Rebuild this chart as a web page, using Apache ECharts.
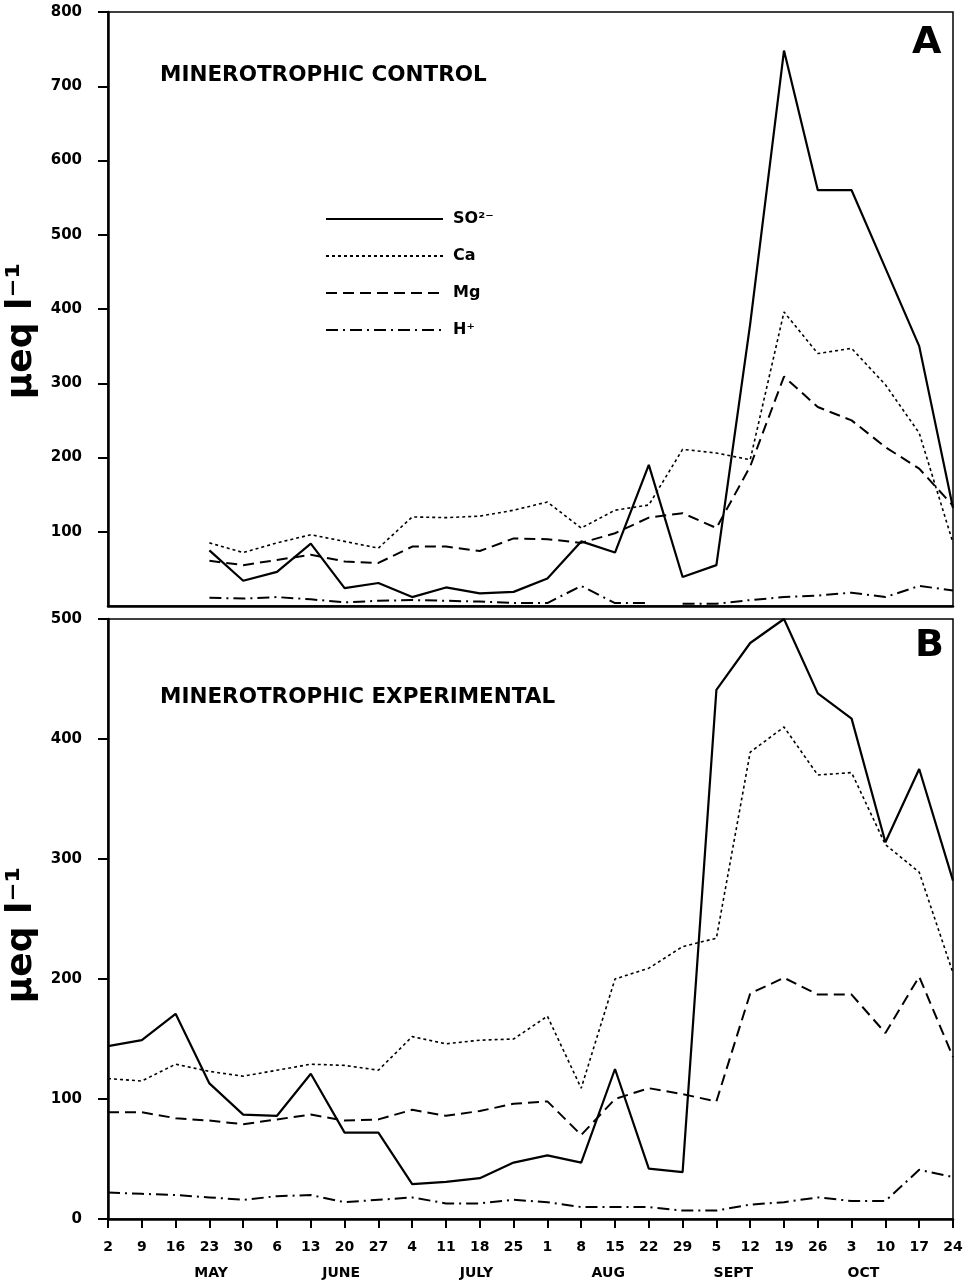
<!DOCTYPE html>
<html>
<head>
<meta charset="utf-8">
<script src="https://cdn.jsdelivr.net/npm/echarts@6/dist/echarts.min.js"></script>
<style>
  html, body { margin: 0; padding: 0; background: #fff; }
  #chart { width: 977px; height: 1281px; }
</style>
</head>
<body>
<div id="chart"></div>
<script>
// sampling dates, weekly from 2 May to 24 Oct
const days = ['2', '9', '16', '23', '30', '6', '13', '20', '27', '4', '11', '18', '25',
  '1', '8', '15', '22', '29', '5', '12', '19', '26', '3', '10', '17', '24']
const months = ['MAY', 'JUNE', 'JULY', 'AUG', 'SEPT', 'OCT']
// where each month name sits, in date-index units
const monthAt = [3.05, 6.9, 10.9, 14.8, 18.5, 22.35]

// A - minerotrophic control (ueq/l)
const so4A = [null, null, null, 75, 34, 46, 84, 24, 31, 12, 25, 17, 19, 37, 87, 72, 190, 39, 55, 380, 748, 560, 560, 455, 350, 132]
const caA = [null, null, null, 85, 72, 85, 96, 87, 78, 120, 119, 121, 129, 140, 105, 129, 136, 211, 206, 197, 396, 340, 347, 298, 233, 85]
const mgA = [null, null, null, 61, 55, 62, 69, 60, 58, 80, 80, 74, 91, 90, 85, 98, 119, 125, 105, 188, 309, 268, 250, 214, 185, 135]
const hA = [null, null, null, 11, 10, 12, 9, 5, 7, 8, 7, 6, 4, 4, 27, 4, 4, 3, 3, 8, 12, 14, 18, 12, 27, 21]
const hAGapAfter = 16 // the H+ line is broken between Aug 22 and Aug 29

// B - minerotrophic experimental (ueq/l)
const so4B = [144, 149, 171, 113, 87, 86, 121, 72, 72, 29, 31, 34, 47, 53, 47, 125, 42, 39, 441, 480, 500, 438, 417, 314, 375, 282]
const caB = [117, 115, 129, 123, 119, 124, 129, 128, 124, 152, 146, 149, 150, 169, 109, 200, 209, 227, 234, 389, 410, 370, 372, 312, 289, 205]
const mgB = [89, 89, 84, 82, 79, 83, 87, 82, 83, 91, 86, 90, 96, 98, 70, 100, 109, 104, 98, 188, 201, 187, 187, 155, 202, 135]
const hB = [22, 21, 20, 18, 16, 19, 20, 14, 16, 18, 13, 13, 16, 14, 10, 10, 10, 7, 7, 12, 14, 18, 15, 15, 41, 35]

const legendNames = { SO4: 'SO²⁻', Ca: 'Ca', Mg: 'Mg', H: 'H⁺' }

const FONT = 'DejaVu Sans'
const styles = {
  SO4: { color: '#000', width: 2.2, type: 'solid' },
  Ca: { color: '#000', width: 1.6, type: [3, 3] },
  Mg: { color: '#000', width: 2, type: [11, 6] },
  H: { color: '#000', width: 2, type: [12, 5, 2, 5] }
}

function line(name, data, idx) {
  return {
    name: name,
    type: 'line',
    xAxisIndex: idx,
    yAxisIndex: idx,
    data: data,
    symbol: 'none',
    silent: true,
    lineStyle: styles[name],
    itemStyle: { color: '#000' }
  }
}

const hA1 = hA.map((v, i) => (i <= hAGapAfter ? v : null))
const hA2 = hA.map((v, i) => (i > hAGapAfter ? v : null))

const boldText = size => ({ fontFamily: FONT, fontWeight: 'bold', fontSize: size, color: '#000' })

function yAxis(idx, max, pad) {
  return {
    gridIndex: idx,
    type: 'value',
    min: 0,
    max: max,
    interval: 100,
    axisLine: { show: true, lineStyle: { color: '#000', width: 2.5 } },
    axisTick: { show: true, length: 10, lineStyle: { color: '#000', width: 2 } },
    axisLabel: Object.assign(boldText(15), { margin: 26, showMinLabel: idx === 1 }),
    splitLine: { show: false },
    name: 'µeq l⁻¹',
    nameLocation: 'middle',
    nameRotate: 90,
    nameGap: 52,
    nameTextStyle: Object.assign(boldText(36), { padding: pad })
  }
}

const chart = echarts.init(document.getElementById('chart'))

chart.setOption({
  animation: false,
  backgroundColor: '#fff',
  grid: [
    { left: 108, right: 24, top: 12, height: 594, outerBoundsMode: 'none', show: true, borderColor: '#000', borderWidth: 1.5 },
    { left: 108, right: 24, top: 619, height: 600, outerBoundsMode: 'none', show: true, borderColor: '#000', borderWidth: 1.5 }
  ],
  title: [
    { text: 'MINEROTROPHIC CONTROL', left: 160, top: 64, padding: 0, textStyle: boldText(21.5) },
    { text: 'MINEROTROPHIC EXPERIMENTAL', left: 160, top: 686, padding: 0, textStyle: boldText(21.5) },
    { text: 'A', left: 912, top: 24, padding: 0, textStyle: boldText(38) },
    { text: 'B', left: 915, top: 627, padding: 0, textStyle: boldText(38) }
  ],
  legend: {
    orient: 'vertical',
    left: 320,
    top: 206,
    itemWidth: 117,
    itemHeight: 14,
    itemGap: 21,
    selectedMode: false,
    data: ['SO4', 'Ca', 'Mg', 'H'],
    formatter: n => legendNames[n],
    itemStyle: { opacity: 0 },
    textStyle: Object.assign(boldText(16), { padding: [0, 0, 0, 5] })
  },
  xAxis: [
    {
      gridIndex: 0,
      type: 'category',
      data: days,
      boundaryGap: false,
      axisLine: { lineStyle: { color: '#000', width: 2.5 } },
      axisTick: { show: false },
      axisLabel: { show: false }
    },
    {
      gridIndex: 1,
      type: 'category',
      data: days,
      boundaryGap: false,
      axisLine: { lineStyle: { color: '#000', width: 2.5 } },
      axisTick: { show: true, length: 9, interval: 0, lineStyle: { color: '#000', width: 2 } },
      axisLabel: Object.assign(boldText(14), { interval: 0, margin: 21 })
    }
  ],
  yAxis: [yAxis(0, 800, [0, 44, 0, 0]), yAxis(1, 500, [0, 32, 0, 0])],
  series: [
    line('SO4', so4A, 0),
    line('Ca', caA, 0),
    line('Mg', mgA, 0),
    line('H', hA1, 0),
    line('H', hA2, 0),
    line('SO4', so4B, 1),
    line('Ca', caB, 1),
    line('Mg', mgB, 1),
    line('H', hB, 1)
  ]
})

// month names under the day labels
const x0 = chart.convertToPixel({ xAxisIndex: 1 }, 0)
const step = chart.convertToPixel({ xAxisIndex: 1 }, 1) - x0
chart.setOption({
  graphic: months.map((m, i) => ({
    type: 'text',
    x: x0 + monthAt[i] * step,
    y: 1273,
    silent: true,
    style: {
      text: m,
      font: 'bold 14px "DejaVu Sans"',
      fill: '#000',
      textAlign: 'center',
      textVerticalAlign: 'middle'
    }
  }))
})
</script>
</body>
</html>
